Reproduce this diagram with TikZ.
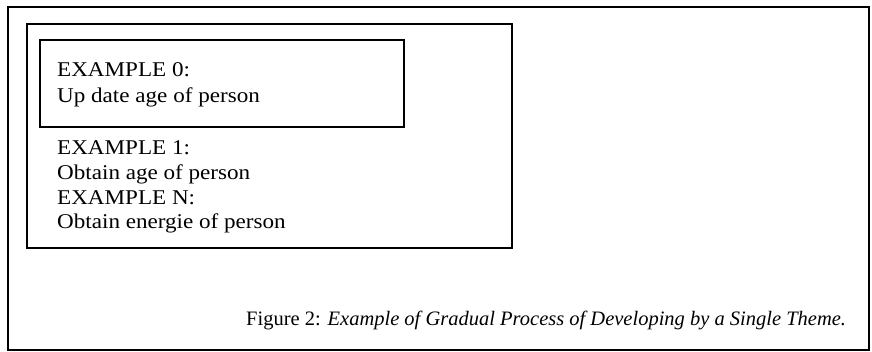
\documentclass[tikz,border=0pt]{standalone}
\usepackage{fontspec}
\setmainfont{Liberation Serif}
\newfontfamily\widefont[FakeStretch=1.1]{Liberation Serif}
\begin{document}
\begin{tikzpicture}[x=1pt,y=-1pt,
  frame/.style={draw=black,line width=1.8pt},
  txt/.style={anchor=base west,inner sep=0pt,font=\widefont\fontsize{21}{25}\selectfont},
  captxt/.style={anchor=base west,inner sep=0pt,font=\fontsize{20.5}{25}\selectfont}]
\useasboundingbox (0,0) rectangle (872,352);
\draw[frame] (8,7) rectangle (869,350);
\draw[frame] (27,24) rectangle (512,248);
\draw[frame] (40,40) rectangle (404,127);
\node[txt] (e0) at (57,77) {EXAMPLE 0:};
\node[txt] (e0t) at (57,103) {Up date age of person};
\node[txt] (e1) at (57,155) {EXAMPLE 1:};
\node[txt] (e1t) at (57,180) {Obtain age of person};
\node[txt] (en) at (57,205) {EXAMPLE N:};
\node[txt] (ent) at (57,229) {Obtain energie of person};
\node[captxt] (cap) at (246,325) {Figure 2: \textit{Example of Gradual Process of Developing by a Single Theme.}};
\end{tikzpicture}
\end{document}
